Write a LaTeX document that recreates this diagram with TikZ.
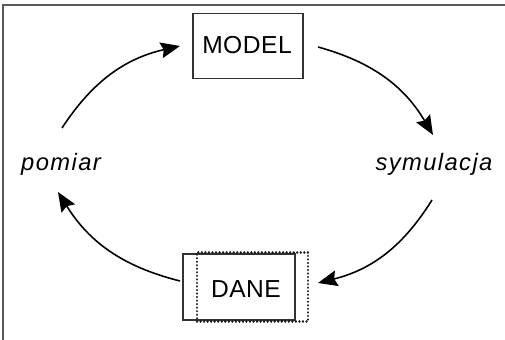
\documentclass[tikz,border=0pt]{standalone}
\usepackage{fontspec}
\setmainfont{Liberation Sans}
\usetikzlibrary{arrows.meta}
\begin{document}
\begin{tikzpicture}[x=0.02cm,y=-0.02cm,
  lbl/.style={font=\fontsize{14}{16}\selectfont\addfontfeature{LetterSpace=2}},
  ilbl/.style={font=\fontsize{13.5}{16}\selectfont\itshape\addfontfeature{LetterSpace=6}},
  boxx/.style={draw=black!80,line width=0.6pt,inner sep=0pt},
  dotbox/.style={draw=black!90,line width=1.4pt,line cap=round,dash pattern=on 0.01pt off 2pt,inner sep=0pt},
  arr/.style={line width=0.9pt,-{Stealth[length=11pt,width=9pt,inset=1.5pt]}}]
\useasboundingbox (0,0) rectangle (505,340);
\draw[black!65,line width=0.6pt] (3,340) -- (3,5) -- (505,5);
\node[boxx,minimum width=2.2cm,minimum height=1.3cm] (modelbox) at (248,46) {};
\node[lbl] (model) at (247,45) {MODEL};
\node[boxx,minimum width=2.24cm,minimum height=1.32cm] (danebox) at (239,287) {};
\node[dotbox,minimum width=2.22cm,minimum height=1.38cm] (danedot) at (252.5,287) {};
\node[lbl] (dane) at (246,289) {DANE};
\node[ilbl] (sym) at (434,164) {symulacja};
\node[ilbl] (pom) at (61,164) {pomiar};
\coordinate (a1) at (62,128);
\coordinate (a2) at (180,46);
\coordinate (b1) at (318,47);
\coordinate (b2) at (433,135);
\coordinate (c1) at (432,200);
\coordinate (c2) at (318,283);
\coordinate (d1) at (180,281);
\coordinate (d2) at (58,192);
\draw[arr] (a1) to[bend left=22] (a2);
\draw[arr] (b1) to[bend left=22] (b2);
\draw[arr] (c1) to[bend left=22] (c2);
\draw[arr] (d1) to[bend left=22] (d2);
\end{tikzpicture}
\end{document}
